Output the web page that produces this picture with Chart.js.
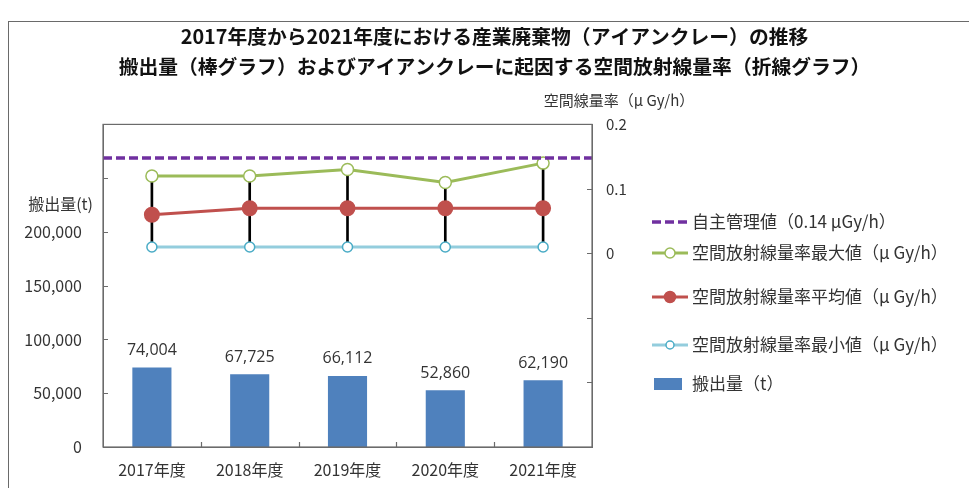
<!DOCTYPE html>
<html>
<head>
<meta charset="utf-8">
<script src="https://cdn.jsdelivr.net/npm/chart.js@4"></script>
<style>
  body { margin: 0; background: #fff; }
  #wrap { position: relative; width: 969px; height: 488px; }
  #frame { position: absolute; left: 8px; top: 21px; width: 980px; height: 500px;
           border-left: 1.5px solid #6a6a6a; border-top: 1.5px solid #6a6a6a; }
  canvas { position: absolute; left: 0; top: 0; }
</style>
</head>
<body>
<div id="wrap">
  <div id="frame"></div>
  <canvas id="myChart" width="969" height="488"></canvas>
</div>
<script>
const years = ['2017年度', '2018年度', '2019年度', '2020年度', '2021年度'];
const shipped = [74004, 67725, 66112, 52860, 62190];
const rateMax = [0.12, 0.12, 0.13, 0.11, 0.14];
const rateAvg = [0.06, 0.07, 0.07, 0.07, 0.07];
const rateMin = [0.01, 0.01, 0.01, 0.01, 0.01];
const limitValue = 0.148;
const legendNames = [
  '自主管理値（0.14 μGy/h）',
  '空間放射線量率最大値（μ Gy/h）',
  '空間放射線量率平均値（μ Gy/h）',
  '空間放射線量率最小値（μ Gy/h）',
  '搬出量（t）'
];

const jp = '"Noto Sans CJK JP", "Noto Sans", sans-serif';
const textColor = '#333333';
const axisColor = '#6b6b6b';

// high-low lines drawn as thin floating bars between min and max
const highLow = rateMin.map((v, i) => [v, rateMax[i]]);

// inner tick marks, plot box, data labels, extra axis titles and legend
const decorations = {
  id: 'decorations',
  afterDatasetsDraw(chart) {
    const ctx = chart.ctx;
    const area = chart.chartArea;
    const yScale = chart.scales.y;
    const y1Scale = chart.scales.y1;
    const xScale = chart.scales.x;
    ctx.save();
    ctx.strokeStyle = axisColor;
    ctx.lineWidth = 1.2;
    ctx.strokeRect(area.left, area.top, area.right - area.left, area.bottom - area.top);
    ctx.beginPath();
    yScale.ticks.forEach((t) => {
      const py = Math.round(yScale.getPixelForValue(t.value)) + 0.5;
      ctx.moveTo(area.left, py);
      ctx.lineTo(area.left + 5, py);
    });
    y1Scale.ticks.forEach((t) => {
      const py = Math.round(y1Scale.getPixelForValue(t.value)) + 0.5;
      ctx.moveTo(area.right, py);
      ctx.lineTo(area.right - 5, py);
    });
    for (let i = 1; i < years.length; i++) {
      const px = Math.round((xScale.getPixelForValue(i - 1) + xScale.getPixelForValue(i)) / 2) + 0.5;
      ctx.moveTo(px, area.bottom);
      ctx.lineTo(px, area.bottom - 5);
    }
    ctx.stroke();

    // values above the bars
    const barMeta = chart.getDatasetMeta(4);
    ctx.fillStyle = textColor;
    ctx.font = '16px "Open Sans", sans-serif';
    ctx.textAlign = 'center';
    ctx.textBaseline = 'bottom';
    barMeta.data.forEach((bar, i) => {
      ctx.fillText(shipped[i].toLocaleString('en-US'), bar.x, bar.y - 9);
    });

    // axis captions
    ctx.font = '15px ' + jp;
    ctx.textBaseline = 'middle';
    ctx.textAlign = 'center';
    ctx.fillText('空間線量率（μ Gy/h）', area.right + 27, area.top - 24);
    ctx.font = '16px ' + jp;
    ctx.textAlign = 'right';
    ctx.fillText('搬出量(t)', area.left - 10, area.top + 80);

    // legend
    const lx = 652;
    const ys = [222, 253, 297, 345, 384];
    const ds = chart.data.datasets;
    ctx.font = '17px ' + jp;
    ctx.textAlign = 'left';
    ys.forEach((ly, i) => {
      const d = ds[i];
      if (i < 4) {
        ctx.strokeStyle = d.borderColor;
        ctx.lineWidth = d.borderWidth;
        ctx.setLineDash(d.borderDash || []);
        ctx.beginPath();
        ctx.moveTo(lx, ly);
        ctx.lineTo(lx + 36, ly);
        ctx.stroke();
        ctx.setLineDash([]);
        if (d.pointRadius > 0) {
          ctx.beginPath();
          ctx.arc(lx + 18, ly, d.pointRadius - 1, 0, Math.PI * 2);
          ctx.fillStyle = d.pointBackgroundColor;
          ctx.fill();
          ctx.lineWidth = 1.5;
          ctx.strokeStyle = d.pointBorderColor;
          ctx.stroke();
        }
      } else {
        ctx.fillStyle = d.backgroundColor;
        ctx.fillRect(lx + 2, ly - 6, 28, 12);
      }
      ctx.fillStyle = textColor;
      ctx.fillText(legendNames[i], lx + 40, ly);
    });
    ctx.restore();
  }
};

const ctx = document.getElementById('myChart');
new Chart(ctx, {
  data: {
    labels: years,
    datasets: [
      {
        type: 'line',
        label: legendNames[0],
        data: [{ x: 0, y: limitValue }, { x: 5, y: limitValue }],
        xAxisID: 'x2',
        yAxisID: 'y1',
        borderColor: '#7030A0',
        borderWidth: 3.5,
        borderDash: [9, 4],
        pointRadius: 0,
        order: 0,
      },
      {
        type: 'line',
        label: legendNames[1],
        data: rateMax,
        yAxisID: 'y1',
        borderColor: '#9BBB59',
        borderWidth: 3,
        pointRadius: 6,
        pointBackgroundColor: '#ffffff',
        pointBorderColor: '#9BBB59',
        pointBorderWidth: 1.5,
        order: 1,
      },
      {
        type: 'line',
        label: legendNames[2],
        data: rateAvg,
        yAxisID: 'y1',
        borderColor: '#C0504D',
        borderWidth: 3,
        pointRadius: 6.5,
        pointBackgroundColor: '#C0504D',
        pointBorderColor: '#C0504D',
        order: 1,
      },
      {
        type: 'line',
        label: legendNames[3],
        data: rateMin,
        yAxisID: 'y1',
        borderColor: '#93CDDD',
        borderWidth: 3,
        pointRadius: 5,
        pointBackgroundColor: '#ffffff',
        pointBorderColor: '#4BACC6',
        pointBorderWidth: 1.5,
        order: 1,
      },
      {
        type: 'bar',
        label: legendNames[4],
        data: shipped,
        yAxisID: 'y',
        backgroundColor: '#4F81BD',
        grouped: false,
        categoryPercentage: 0.8,
        barPercentage: 0.5,
        order: 3,
      },
      {
        type: 'bar',
        label: 'high-low',
        data: highLow,
        yAxisID: 'y1',
        backgroundColor: '#000000',
        grouped: false,
        barThickness: 2,
        order: 2,
      },
    ],
  },
  options: {
    responsive: false,
    animation: false,
    layout: { padding: { left: 20, top: 22, right: 0, bottom: 0 } },
    plugins: {
      legend: { display: false },
      tooltip: { enabled: false },
      title: {
        display: true,
        text: [
          '2017年度から2021年度における産業廃棄物（アイアンクレー）の推移',
          '搬出量（棒グラフ）およびアイアンクレーに起因する空間放射線量率（折線グラフ）'
        ],
        color: '#111111',
        font: { family: jp, size: 19.8, weight: 'bold', lineHeight: 1.5 },
        padding: { top: 0, bottom: 43 },
      },
    },
    scales: {
      x: {
        offset: true,
        grid: { display: false, drawTicks: false },
        border: { color: axisColor },
        ticks: { color: textColor, font: { family: jp, size: 16 }, padding: 13 },
        afterFit: (scale) => { scale.height = 41; },
      },
      x2: {
        type: 'linear',
        display: false,
        min: 0,
        max: 5,
      },
      y: {
        position: 'left',
        min: 0,
        max: 300000,
        grid: { display: false, drawTicks: false },
        border: { color: axisColor },
        ticks: {
          stepSize: 50000,
          color: textColor,
          font: { family: jp, size: 16 },
          padding: 21,
          callback: (v) => (v > 200000 ? '' : v.toLocaleString('en-US')),
        },
        afterFit: (scale) => { scale.width = 83; },
      },
      y1: {
        position: 'right',
        min: -0.3,
        max: 0.2,
        grid: { display: false, drawTicks: false },
        border: { color: axisColor },
        ticks: {
          stepSize: 0.1,
          color: textColor,
          font: { family: jp, size: 15 },
          padding: 14,
          callback: (v) => {
            const r = Math.round(v * 10) / 10;
            return r < 0 ? '' : String(r);
          },
        },
        afterFit: (scale) => { scale.width = 377; },
      },
    },
  },
  plugins: [decorations],
});
</script>
</body>
</html>
